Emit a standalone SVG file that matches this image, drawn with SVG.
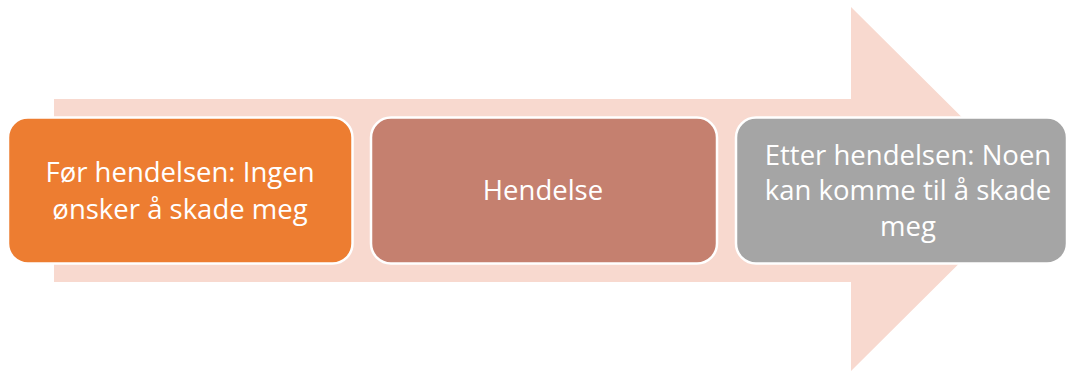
<svg xmlns="http://www.w3.org/2000/svg" width="1068" height="371" viewBox="0 0 1068 371">
<style>
.box{stroke:#FFFFFF;stroke-width:2.5}
.t{font-family:"Open Sans","Liberation Sans",sans-serif;font-size:27.5px;fill:#FFFFFF;text-anchor:middle}
</style>
<rect width="1068" height="371" fill="#FFFFFF"/>
<g id="arrow">
<polygon points="54,99 851,99 851,7 1034,189 851,371 851,282 54,282" fill="#F8D9CF"/>
</g>
<g id="node1">
<rect class="box" x="8" y="117.5" width="344.5" height="146" rx="20" fill="#ED7D31"/>
<text class="t" x="180" y="182">Før hendelsen: Ingen</text>
<text class="t" x="180" y="218.5">ønsker å skade meg</text>
</g>
<g id="node2">
<rect class="box" x="371" y="117.5" width="346" height="146" rx="20" fill="#C5806F"/>
<text class="t" x="543" y="199.5">Hendelse</text>
</g>
<g id="node3">
<rect class="box" x="736" y="117.5" width="331" height="146" rx="20" fill="#A5A5A5"/>
<text class="t" x="908" y="164.5">Etter hendelsen: Noen</text>
<text class="t" x="908" y="200">kan komme til å skade</text>
<text class="t" x="908" y="235.5">meg</text>
</g>
<g id="connectors"></g>
</svg>
